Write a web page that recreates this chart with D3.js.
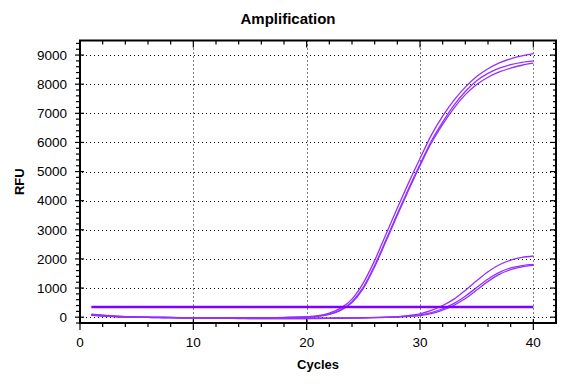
<!DOCTYPE html>
<html>
<head>
<meta charset="utf-8">
<script src="https://cdn.jsdelivr.net/npm/d3@7"></script>
<style>
  body { margin: 0; background: #fff; }
  text { font-family: Arial, "Liberation Sans", sans-serif; }
</style>
</head>
<body>
<svg id="chart" width="576" height="384"></svg>
<script>
// cycles 1..40
const cycles = d3.range(1, 41);

// early amplifying wells
const early1 = [80, 50, 25, 10, 0, -5, -10, -10, -15, -15, -20, -20, -20, -20, -20, -15, -15, -10, 0, 15,
    50, 140, 310, 620, 1180, 1950, 2850, 3750, 4620, 5450, 6250, 6900, 7450, 7900, 8260, 8530, 8730, 8870, 8970, 9050];
const early2 = [60, 40, 20, 5, -5, -10, -15, -15, -20, -20, -20, -25, -25, -25, -25, -20, -20, -15, -5, 5,
    35, 105, 250, 530, 1030, 1780, 2660, 3550, 4420, 5250, 6050, 6700, 7280, 7750, 8120, 8370, 8550, 8670, 8750, 8800];
const early3 = [70, 45, 20, 5, -5, -10, -15, -15, -20, -20, -25, -25, -25, -25, -25, -20, -20, -15, -10, 0,
    30, 95, 230, 500, 990, 1730, 2610, 3500, 4370, 5200, 5980, 6620, 7180, 7640, 7990, 8240, 8420, 8550, 8650, 8720];

// late amplifying wells
const late1 = [100, 70, 40, 20, 5, 0, -5, -10, -15, -20, -25, -30, -35, -35, -40, -40, -40, -40, -40, -40,
    -35, -35, -30, -25, -20, -10, 0, 20, 55, 115, 230, 400, 620, 920, 1250, 1560, 1800, 1960, 2050, 2100];
const late2 = [90, 60, 35, 15, 0, -5, -10, -15, -20, -25, -30, -35, -40, -45, -45, -50, -50, -50, -50, -45,
    -45, -40, -35, -30, -25, -15, -5, 10, 35, 75, 155, 290, 475, 720, 1020, 1310, 1540, 1690, 1770, 1810];
const late3 = [85, 55, 30, 10, 0, -5, -10, -15, -20, -25, -30, -35, -40, -40, -45, -45, -50, -50, -45, -45,
    -40, -40, -35, -30, -25, -15, -5, 5, 28, 55, 120, 240, 410, 640, 930, 1230, 1470, 1630, 1730, 1780];

const series = [early1, early2, early3, late1, late2, late3];
const threshold = 350;

const xMajor = [0, 10, 20, 30, 40];
const yMajor = [0, 1000, 2000, 3000, 4000, 5000, 6000, 7000, 8000, 9000];

const svg = d3.select("#chart");
const plotLeft = 80, plotRight = 556, plotTop = 40.5, plotBottom = 323;

const x = d3.scaleLinear().domain([0, 42]).range([plotLeft, plotRight]);
const y = d3.scaleLinear().domain([-200, 9500]).range([plotBottom, plotTop]);

svg.append("rect").attr("width", 576).attr("height", 384).attr("fill", "#fff");

// dotted grid
let grid = svg.append("g").attr("stroke", "#000").attr("stroke-width", 1).attr("stroke-dasharray", "1,3");
grid.selectAll("line.v").data(xMajor.slice(1)).enter().append("line")
    .attr("x1", d => Math.round(x(d)) + 0.5).attr("x2", d => Math.round(x(d)) + 0.5)
    .attr("y1", plotTop).attr("y2", plotBottom);
grid.selectAll("line.h").data(yMajor).enter().append("line")
    .attr("y1", d => Math.round(y(d)) + 0.5).attr("y2", d => Math.round(y(d)) + 0.5)
    .attr("x1", plotLeft + 2).attr("x2", plotRight);

// curves
const line = d3.line()
    .x((d, i) => x(cycles[i]))
    .y(d => y(d))
    .curve(d3.curveMonotoneX);

svg.append("g")
    .selectAll("path")
    .data(series)
    .enter().append("path")
    .attr("d", line)
    .attr("fill", "none")
    .attr("stroke", "#9430ff")
    .attr("stroke-width", 1.3);

// threshold
svg.append("line")
    .attr("x1", x(1)).attr("x2", x(40))
    .attr("y1", y(threshold)).attr("y2", y(threshold))
    .attr("stroke", "#7f00ff").attr("stroke-width", 2.5);

// frame
svg.append("rect")
    .attr("x", plotLeft).attr("y", plotTop)
    .attr("width", plotRight - plotLeft).attr("height", plotBottom - plotTop)
    .attr("fill", "none").attr("stroke", "#000").attr("stroke-width", 2);

// ticks
const yMinor = d3.range(-200, 9500, 200).filter(v => v % 1000 !== 0);
const xMinor = d3.range(2, 42, 2).filter(v => v % 10 !== 0);
let ticks = svg.append("g").attr("stroke", "#000").attr("stroke-width", 1.2);

ticks.selectAll("line.yl").data(yMajor).enter().append("line")
    .attr("x1", plotLeft - 5).attr("x2", plotLeft + 4)
    .attr("y1", d => y(d)).attr("y2", d => y(d));
ticks.selectAll("line.ylm").data(yMinor).enter().append("line")
    .attr("x1", plotLeft - 4).attr("x2", plotLeft)
    .attr("y1", d => y(d)).attr("y2", d => y(d));
ticks.selectAll("line.yr").data(yMajor).enter().append("line")
    .attr("x1", plotRight - 6).attr("x2", plotRight)
    .attr("y1", d => y(d)).attr("y2", d => y(d));
ticks.selectAll("line.yrm").data(yMinor).enter().append("line")
    .attr("x1", plotRight - 3).attr("x2", plotRight)
    .attr("y1", d => y(d)).attr("y2", d => y(d));

ticks.selectAll("line.xb").data(xMajor).enter().append("line")
    .attr("x1", d => x(d)).attr("x2", d => x(d))
    .attr("y1", plotBottom - 4).attr("y2", plotBottom + 7);
ticks.selectAll("line.xbm").data(xMinor).enter().append("line")
    .attr("x1", d => x(d)).attr("x2", d => x(d))
    .attr("y1", plotBottom).attr("y2", plotBottom + 4);
ticks.selectAll("line.xt").data(xMajor).enter().append("line")
    .attr("x1", d => x(d)).attr("x2", d => x(d))
    .attr("y1", plotTop).attr("y2", plotTop + 7);
ticks.selectAll("line.xtm").data(xMinor).enter().append("line")
    .attr("x1", d => x(d)).attr("x2", d => x(d))
    .attr("y1", plotTop).attr("y2", plotTop + 4);

// tick labels
svg.append("g").selectAll("text").data(yMajor).enter().append("text")
    .attr("x", plotLeft - 13).attr("y", d => y(d))
    .attr("dy", "0.35em")
    .attr("text-anchor", "end")
    .style("font-size", "13.5px")
    .text(d => d);

svg.append("g").selectAll("text").data(xMajor).enter().append("text")
    .attr("x", d => x(d)).attr("y", 347)
    .attr("text-anchor", "middle")
    .style("font-size", "13.5px")
    .text(d => d);

// titles
svg.append("text")
    .attr("x", 288).attr("y", 24)
    .attr("text-anchor", "middle")
    .style("font-size", "15px").style("font-weight", "bold")
    .text("Amplification");

svg.append("text")
    .attr("x", (plotLeft + plotRight) / 2).attr("y", 369)
    .attr("text-anchor", "middle")
    .style("font-size", "13px").style("font-weight", "bold")
    .text("Cycles");

svg.append("text")
    .attr("transform", `translate(24,${(plotTop + plotBottom) / 2}) rotate(-90)`)
    .attr("text-anchor", "middle")
    .style("font-size", "13px").style("font-weight", "bold")
    .text("RFU");
</script>
</body>
</html>
